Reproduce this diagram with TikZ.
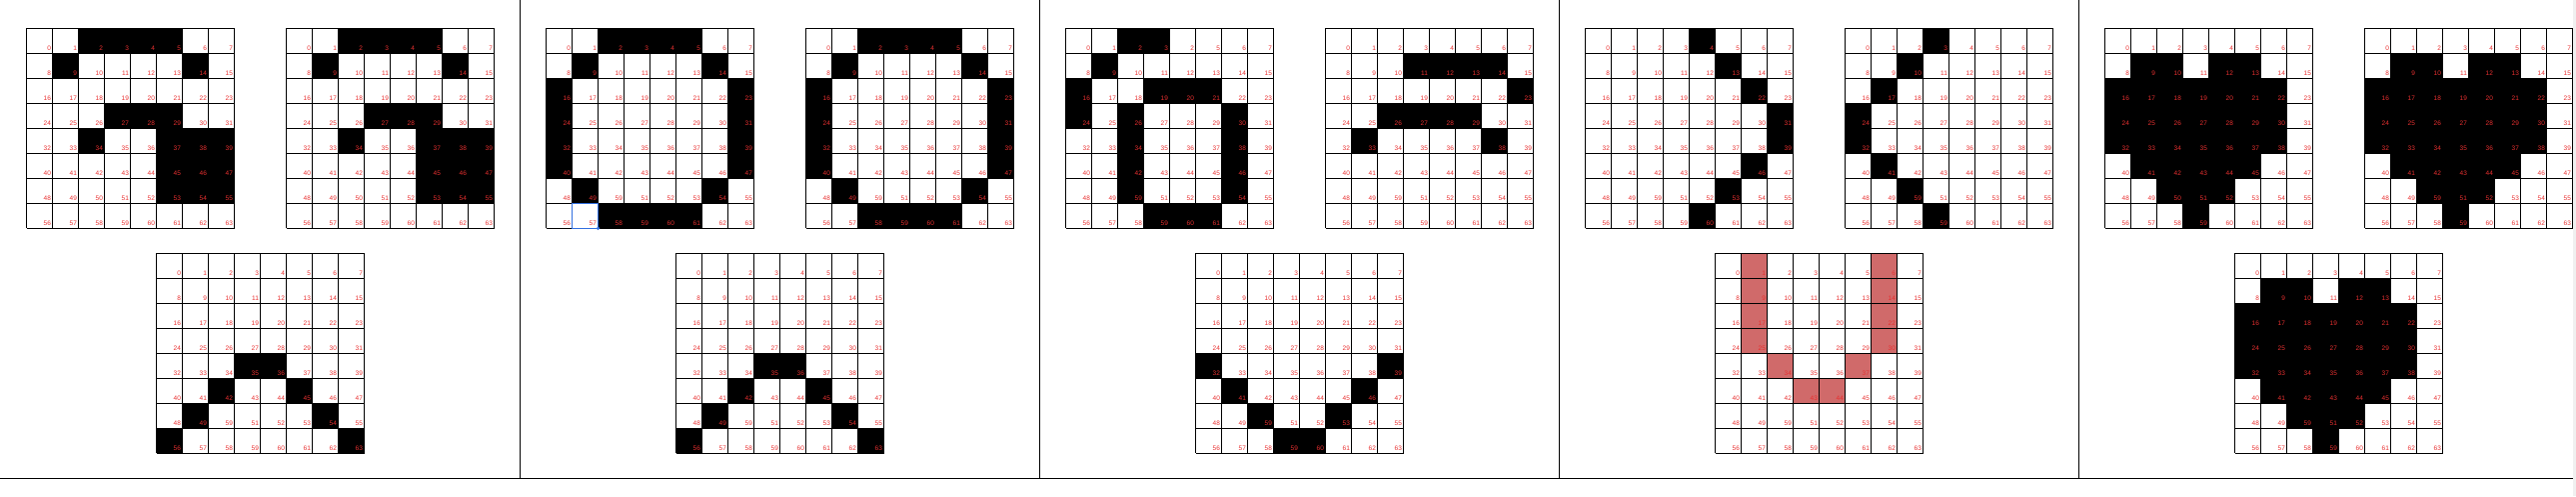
\documentclass[tikz,border=0pt]{standalone}
\usepackage{fontspec}
\setmainfont{Liberation Sans}
\definecolor{numred}{RGB}{232,48,48}
\definecolor{pinkfill}{RGB}{208,106,106}
\definecolor{selblue}{RGB}{51,112,224}

% one 8x8 board: name, left, top, filled cells, fill colour, text of cell 4, text of cell 50
\newcommand{\pixgrid}[7]{%
  \edef\celllist{#4}%
  \foreach \c in \celllist {
    \pgfmathtruncatemacro{\cx}{mod(\c,8)}
    \pgfmathtruncatemacro{\cy}{div(\c,8)}
    \fill[#5] (#2+\cx*26,#3+\cy*25) rectangle ++(26,25);
  }
  \foreach \k in {0,...,8} {
    \draw[gridline] (#2+\k*26,#3) -- ++(0,200);
    \draw[gridline] (#2,#3+\k*25) -- ++(208,0);
  }
  \foreach \i in {0,...,63} {
    \pgfmathtruncatemacro{\cx}{mod(\i,8)}
    \pgfmathtruncatemacro{\cy}{div(\i,8)}
    \node[cellnum] (#1-\i) at (#2+\cx*26+24.6,#3+\cy*25+22.4)
      {\ifnum\i=4 #6\else\ifnum\i=50 #7\else\i\fi\fi};
  }
}
\newcommand{\heartcells}{9,10,12,13,16,17,18,19,20,21,22,24,25,26,27,28,29,30,32,33,34,35,36,37,38,41,42,43,44,45,50,51,52,59}

\begin{document}
\begin{tikzpicture}[x=1pt,y=-1pt,
    gridline/.style={line width=0.8pt,black},
    sepline/.style={line width=0.8pt,black},
    cellnum/.style={anchor=base east,inner sep=0pt,text=numred,
      font=\fontsize{6.5}{6.5}\selectfont}]
  \useasboundingbox (0,0) rectangle (2578,496);

  % panel 1
  \pixgrid{p1a}{26.5}{28.3}{2,3,4,5,9,14,27,28,29,34,37,38,39,45,46,47,53,54,55}{black}{4}{50}
  \pixgrid{p1b}{286.5}{28.3}{2,3,4,5,9,14,27,28,29,34,37,38,39,45,46,47,53,54,55}{black}{4}{50}
  \pixgrid{p1c}{156.5}{253.3}{35,36,42,45,49,54,56,63}{black}{4}{59}

  % panel 2
  \begin{scope}[xshift=520pt]
    \pixgrid{p2a}{26.5}{28.3}{2,3,4,5,9,14,16,23,24,31,32,39,40,47,49,54,58,59,60,61}{black}{4}{59}
    \pixgrid{p2b}{286.5}{28.3}{2,3,4,5,9,14,16,23,24,31,32,39,40,47,49,54,58,59,60,61}{black}{4}{59}
    \pixgrid{p2c}{156.5}{253.3}{35,36,42,45,49,54,56,63}{black}{4}{59}
    \draw[selblue,line width=0.9pt] (52.5,203.3) rectangle (78.5,228.3);
    \fill[selblue] (78.5,228.3) circle (1.8);
  \end{scope}

  % panel 3
  \begin{scope}[xshift=1040pt]
    \pixgrid{p3a}{26.5}{28.3}{2,3,9,16,19,20,21,24,26,30,34,38,42,46,50,54,59,60,61}{black}{2}{59}
    \pixgrid{p3b}{286.5}{28.3}{11,12,13,14,23,26,27,28,29,33,38}{black}{4}{59}
    \pixgrid{p3c}{156.5}{253.3}{32,39,41,46,50,53,59,60}{black}{4}{59}
  \end{scope}

  % panel 4
  \begin{scope}[xshift=1560pt]
    \pixgrid{p4a}{26.5}{28.3}{4,13,22,31,39,46,53,60}{black}{4}{59}
    \pixgrid{p4b}{286.5}{28.3}{3,10,17,24,32,41,50,59}{black}{4}{59}
    \pixgrid{p4c}{156.5}{253.3}{1,6,9,14,17,22,25,30,34,37,43,44}{pinkfill}{4}{59}
  \end{scope}

  % panel 5
  \begin{scope}[xshift=2080pt]
    \pixgrid{p5a}{26.5}{28.3}{\heartcells}{black}{4}{50}
    \pixgrid{p5b}{286.5}{28.3}{\heartcells}{black}{4}{59}
    \pixgrid{p5c}{156.5}{253.3}{\heartcells}{black}{4}{59}
  \end{scope}

  % frame
  \foreach \s in {520.5,1040.5,1560.5,2080.5}
    \draw[sepline] (\s,0) -- (\s,478.3);
  \draw[sepline,line width=1.2pt] (0,478.3) -- (2575,478.3);
  \fill[gray!12] (2575,0) rectangle (2578,496);
\end{tikzpicture}
\end{document}
